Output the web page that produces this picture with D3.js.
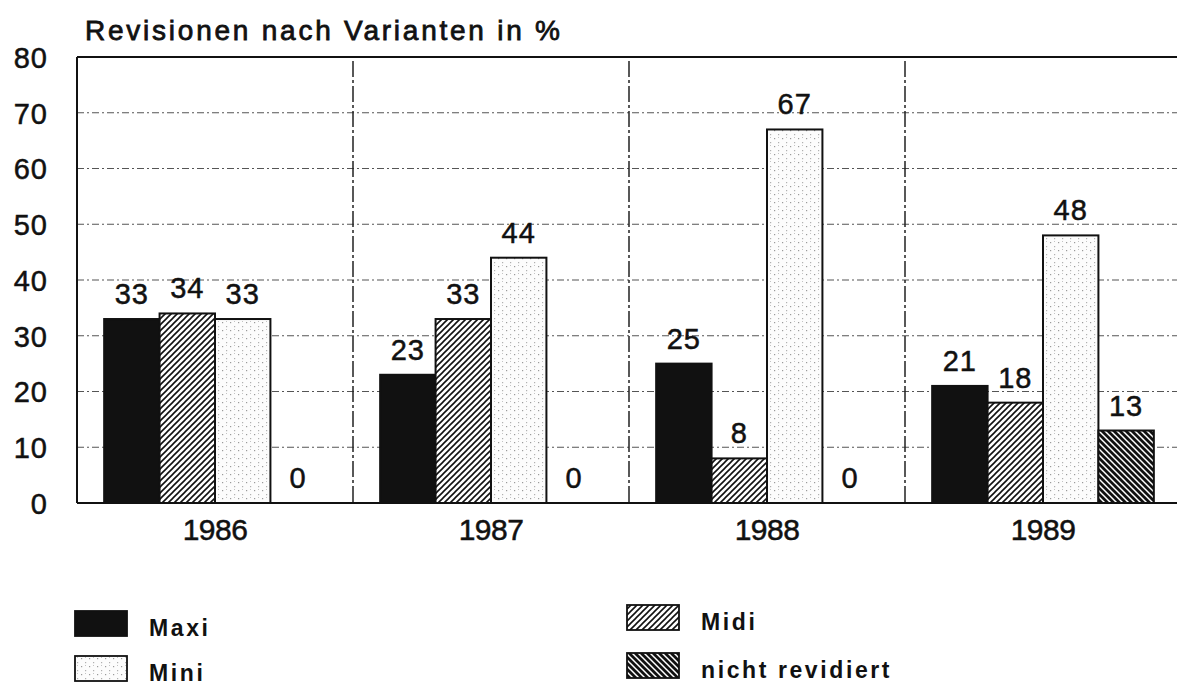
<!DOCTYPE html>
<html><head><meta charset="utf-8">
<script src="https://cdn.jsdelivr.net/npm/d3@7"></script>
<style>body{margin:0;background:#fff}svg{display:block}text{font-family:"Liberation Sans",Arial,sans-serif;fill:#111}</style>
</head><body>
<script>
const title = "Revisionen nach Varianten in %";
const years = ["1986","1987","1988","1989"];
const seriesKeys = ["maxi","midi","mini","nicht"];
const seriesNames = ["Maxi","Midi","Mini","nicht revidiert"];
const maxi  = [33,23,25,21];
const midi  = [34,33,8,18];
const mini  = [33,44,67,48];
const nicht = [0,0,0,13];
const yTicks = [0,10,20,30,40,50,60,70,80];

const W=1177,H=686;
const svg=d3.select("body").append("svg").attr("width",W).attr("height",H);
const defs=svg.append("defs");
// patterns
const pMidi=defs.append("pattern").attr("id","p-midi").attr("patternUnits","userSpaceOnUse").attr("width",6).attr("height",6);
pMidi.append("rect").attr("width",6).attr("height",6).attr("fill","#fff");
pMidi.append("path").attr("d","M0,6 L6,0 M-1,1 L1,-1 M5,7 L7,5").attr("stroke","#111").attr("stroke-width",1.6);
const pN=defs.append("pattern").attr("id","p-nicht").attr("patternUnits","userSpaceOnUse").attr("width",6).attr("height",6);
pN.append("rect").attr("width",6).attr("height",6).attr("fill","#fff");
pN.append("path").attr("d","M0,0 L6,6 M-1,5 L1,7 M5,-1 L7,1").attr("stroke","#111").attr("stroke-width",2.8);
const pMini=defs.append("pattern").attr("id","p-mini").attr("patternUnits","userSpaceOnUse").attr("width",8).attr("height",8);
pMini.append("rect").attr("width",8).attr("height",8).attr("fill","#fcfcfc");
pMini.append("rect").attr("x",1).attr("y",2).attr("width",1.2).attr("height",1.2).attr("fill","#9a9a9a");
pMini.append("rect").attr("x",5).attr("y",6).attr("width",1.2).attr("height",1.2).attr("fill","#b0b0b0");
pMini.append("rect").attr("x",5).attr("y",1).attr("width",1).attr("height",1).attr("fill","#c4c4c4");
const fills={maxi:"#111",midi:"url(#p-midi)",mini:"url(#p-mini)",nicht:"url(#p-nicht)"};
const values={maxi,midi,mini,nicht};

const pLeft=77, pRight=1181, pTop=57, pBottom=503;
const x0=d3.scaleBand().domain(years).range([pLeft,pRight]).padding(0);
const x1=d3.scaleBand().domain(seriesKeys).range([0,x0.bandwidth()]).paddingInner(0).paddingOuter(0.49);
const y=d3.scaleLinear().domain([0,80]).range([pBottom,pTop]);

// title
svg.append("text").attr("x",85).attr("y",40).attr("font-size",28).attr("textLength",475).attr("lengthAdjust","spacing")
  .attr("stroke","#111").attr("stroke-width",0.8).text(title);

// gridlines
const g=svg.append("g");
g.selectAll("line.h").data(yTicks.filter(t=>t>0&&t<80)).join("line")
  .attr("x1",pLeft).attr("x2",W).attr("y1",d=>y(d)).attr("y2",d=>y(d))
  .attr("stroke","#555").attr("stroke-width",1.1).attr("stroke-dasharray","7,3,2,3");
g.selectAll("line.v").data(years.slice(1)).join("line")
  .attr("x1",d=>x0(d)).attr("x2",d=>x0(d)).attr("y1",pTop+4).attr("y2",pBottom)
  .attr("stroke","#222").attr("stroke-width",1.5).attr("stroke-dasharray","16,3,3,3");

// y axis
const yAxis=d3.axisLeft(y).tickValues(yTicks).tickSize(0).tickPadding(29);
const ya=svg.append("g").attr("transform",`translate(${pLeft},0)`).call(yAxis);
ya.select(".domain").remove();
ya.selectAll("text").attr("font-size",29).attr("fill","#111").attr("stroke","#111").attr("stroke-width",0.5)
  .attr("font-family","Liberation Sans, Arial, sans-serif").attr("dy","0.36em").attr("letter-spacing",1);

// frame
svg.append("line").attr("x1",pLeft).attr("x2",W).attr("y1",pTop).attr("y2",pTop).attr("stroke","#111").attr("stroke-width",1.8);
svg.append("line").attr("x1",pLeft).attr("x2",W).attr("y1",pBottom).attr("y2",pBottom).attr("stroke","#111").attr("stroke-width",2);
svg.append("line").attr("x1",pLeft).attr("x2",pLeft).attr("y1",pTop).attr("y2",pBottom).attr("stroke","#111").attr("stroke-width",2);

// bars
const groups=svg.append("g").selectAll("g").data(years).join("g").attr("transform",d=>`translate(${x0(d)},0)`);
groups.each(function(yr,i){
  const gg=d3.select(this);
  seriesKeys.forEach(k=>{
    const v=values[k][i];
    if(v>0){
      gg.append("rect").attr("x",x1(k)).attr("y",y(v)).attr("width",x1.bandwidth()).attr("height",y(0)-y(v))
        .attr("fill",fills[k]).attr("stroke","#111").attr("stroke-width",2);
    }
    gg.append("text").attr("x",x1(k)+x1.bandwidth()/2).attr("y",y(v)-15).attr("text-anchor","middle")
      .attr("font-size",29).attr("stroke","#111").attr("stroke-width",0.5).attr("letter-spacing",1).text(v);
  });
});

// x axis labels
const xAxis=d3.axisBottom(x0).tickSize(0).tickPadding(10);
const xa=svg.append("g").attr("transform",`translate(0,${pBottom})`).call(xAxis);
xa.select(".domain").remove();
xa.selectAll("text").attr("font-size",30).attr("fill","#111").attr("stroke","#111").attr("stroke-width",0.5)
  .attr("font-family","Liberation Sans, Arial, sans-serif").attr("dy","0.9em").attr("letter-spacing",-0.5);

// legend
const legendPos=[{k:"maxi",x:75,y:611},{k:"midi",x:627,y:605},{k:"mini",x:75,y:656},{k:"nicht",x:627,y:653}];
const lg=svg.append("g");
legendPos.forEach(p=>{
  const idx=seriesKeys.indexOf(p.k);
  lg.append("rect").attr("x",p.x).attr("y",p.y).attr("width",52).attr("height",25)
    .attr("fill",fills[p.k]).attr("stroke","#111").attr("stroke-width",1.8);
  lg.append("text").attr("x",p.x+74).attr("y",p.y+25).attr("font-size",23).attr("font-weight","bold")
    .attr("letter-spacing",2.6).text(seriesNames[idx]);
});
</script>
</body></html>
